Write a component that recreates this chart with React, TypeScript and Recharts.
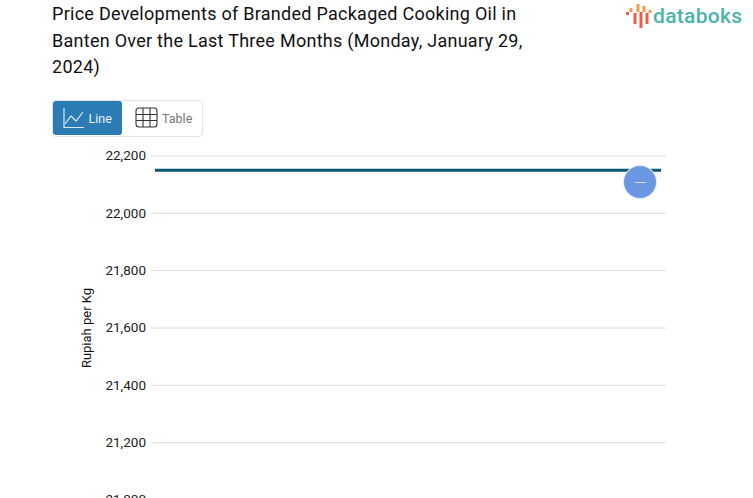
import React from "react";
import { LineChart, Line, XAxis, YAxis, CartesianGrid } from "recharts";

const titleLines = [
  "Price Developments of Branded Packaged Cooking Oil in",
  "Banten Over the Last Three Months (Monday, January 29,",
  "2024)",
];
const dates = ["Oct 30", "Nov 6", "Nov 13", "Nov 20", "Nov 27", "Dec 4", "Dec 11", "Dec 18", "Dec 25", "Jan 1", "Jan 8", "Jan 15", "Jan 22", "Jan 29"];
const prices = [22150, 22150, 22150, 22150, 22150, 22150, 22150, 22150, 22150, 22150, 22150, 22150, 22150, 22150];
const yTicks = [21000, 21200, 21400, 21600, 21800, 22000, 22200];
const logoBars: [number, number, number, string][] = [
  [0, 8, 3, "#e8604c"],
  [3.5, 4, 4, "#f0a04b"],
  [7.5, 9, 11, "#e8604c"],
  [10.5, 0, 8, "#f0a04b"],
  [13.5, 8, 16, "#e8604c"],
  [16.5, 2, 6, "#f0a04b"],
  [19.5, 9, 11, "#e8604c"],
  [22.5, 6, 3, "#f0a04b"],
];

const data = dates.map((date, i) => ({ date, price: prices[i] }));
const font = "Roboto, sans-serif";

export default function App() {
  return (
    <div style={{ position: "fixed", left: 0, top: 0, width: 753, height: 498, overflow: "hidden", background: "#fff", fontFamily: font }}>
      <div style={{ position: "absolute", left: 52, top: 1, width: 500, fontSize: 18, letterSpacing: 0.27, lineHeight: "26.5px", color: "#111", whiteSpace: "nowrap" }}>
        {titleLines.map((l) => (
          <div key={l}>{l}</div>
        ))}
      </div>

      <svg style={{ position: "absolute", left: 626, top: 4 }} width={26} height={24} viewBox="0 0 26 24">
        {logoBars.map(([x, y, h, c], i) => (
          <rect key={i} x={x} y={y} width={3} height={h} fill={c} />
        ))}
      </svg>
      <div style={{ position: "absolute", left: 653, top: 3, fontSize: 21, lineHeight: "26px", color: "#4bb3ac", fontWeight: 500, letterSpacing: 0.3 }}>databoks</div>

      <div style={{ position: "absolute", left: 52, top: 100, width: 149, height: 35, border: "1px solid #e2e2e2", borderRadius: 4 }} />
      <div style={{ position: "absolute", left: 53, top: 101, width: 69, height: 34, background: "#2b7bb5", borderRadius: 3 }} />
      <svg style={{ position: "absolute", left: 63, top: 107 }} width={22} height={22} viewBox="0 0 22 22" fill="none" stroke="#dce9f3" strokeWidth={1.2}>
        <path d="M1 1V20.5H21" />
        <path d="M2 17L8 9L13 14L20 5" />
      </svg>
      <div style={{ position: "absolute", left: 88.5, top: 111, fontSize: 12.5, lineHeight: "16px", color: "#e8f1f7" }}>Line</div>
      <svg style={{ position: "absolute", left: 135, top: 107 }} width={23} height={21} viewBox="0 0 23 21" fill="none" stroke="#333" strokeWidth={1.1}>
        <rect x={1} y={1} width={21} height={19} rx={3} />
        <path d="M8 1V20M15 1V20M1 7.5H22M1 13.5H22" />
      </svg>
      <div style={{ position: "absolute", left: 162, top: 111, fontSize: 12.5, lineHeight: "16px", color: "#777" }}>Table</div>

      <div style={{ position: "absolute", left: 0, top: 0 }}>
        <LineChart width={753} height={560} data={data} margin={{ top: 156, right: 87, bottom: 60, left: 151 - 60 }}>
          <CartesianGrid vertical={false} stroke="#dcdcdc" strokeWidth={1} />
          <XAxis dataKey="date" hide padding={{ left: 4, right: 5 }} />
          <YAxis
            width={60}
            domain={[21000, 22200]}
            ticks={yTicks}
            axisLine={false}
            tickLine={false}
            tickMargin={-1}
            tick={{ fontSize: 13.5, fill: "#222", fontFamily: font, dy: -0.5 }}
            tickFormatter={(v: number) => v.toLocaleString("en-US")}
            label={{ value: "Rupiah per Kg", angle: -90, position: "insideLeft", offset: -5, style: { fontSize: 13, fill: "#111", fontFamily: font, textAnchor: "middle" } }}
          />
          <Line type="linear" dataKey="price" stroke="#0b5672" strokeWidth={3} dot={false} isAnimationActive={false} />
        </LineChart>
      </div>

      <div style={{ position: "absolute", left: 624, top: 166, width: 32, height: 32, borderRadius: "50%", background: "#6b96e2", boxShadow: "0 0 0 1px #dfe8f8" }}>
        <div style={{ position: "absolute", left: 11, top: 16, width: 11, height: 1, background: "#cfdcf5" }} />
      </div>
    </div>
  );
}
